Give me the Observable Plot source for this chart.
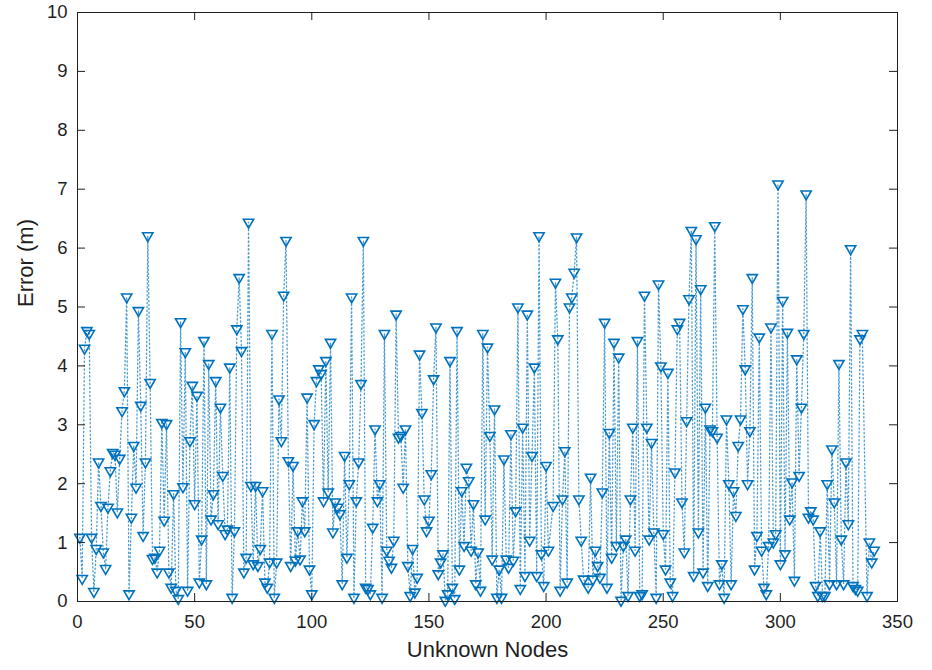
<!DOCTYPE html>
<html><head><meta charset="utf-8">
<script src="https://cdn.jsdelivr.net/npm/d3@7"></script>
<script src="https://cdn.jsdelivr.net/npm/@observablehq/plot@0.6"></script>
<style>body{margin:0;background:#fff}</style>
</head><body><div id="chart"></div>
<script>
const nodes = [
1,2,3,4,5,6,7,8,9,10,11,12,13,14,15,16,17,18,19,20,
21,22,23,24,25,26,27,28,29,30,31,32,33,34,35,36,37,38,39,40,
41,42,43,44,45,46,47,48,49,50,51,52,53,54,55,56,57,58,59,60,
61,62,63,64,65,66,67,68,69,70,71,72,73,74,75,76,77,78,79,80,
81,82,83,84,85,86,87,88,89,90,91,92,93,94,95,96,97,98,99,100,
101,102,103,104,105,106,107,108,109,110,111,112,113,114,115,116,117,118,119,120,
121,122,123,124,125,126,127,128,129,130,131,132,133,134,135,136,137,138,139,140,
141,142,143,144,145,146,147,148,149,150,151,152,153,154,155,156,157,158,159,160,
161,162,163,164,165,166,167,168,169,170,171,172,173,174,175,176,177,178,179,180,
181,182,183,184,185,186,187,188,189,190,191,192,193,194,195,196,197,198,199,200,
201,203,204,205,206,207,208,209,210,211,212,213,214,215,216,218,219,220,221,222,
223,224,225,226,227,228,229,230,231,232,233,234,235,236,237,238,239,240,241,242,
243,244,245,246,247,248,249,250,251,252,253,254,255,256,257,258,259,260,261,262,
263,264,265,266,267,268,269,270,271,272,273,274,275,276,277,278,279,280,281,282,
283,284,285,286,287,288,289,290,291,292,293,294,295,296,297,298,299,300,301,302,
303,304,305,306,307,308,309,310,311,312,313,314,315,316,317,318,319,320,321,322,
323,324,325,326,327,328,329,330,331,332,333,334,335,337,338,339,340
];
const errors = [
1.09,0.39,4.3,4.6,4.55,1.09,0.17,0.9,2.37,1.63,0.84,0.56,1.6,2.22,2.53,2.5,1.52,2.43,3.24,3.58,
5.17,0.13,1.43,2.65,1.94,4.94,3.33,1.12,2.37,6.21,3.72,0.73,0.75,0.5,0.87,3.04,1.38,3.02,0.5,0.24,
1.83,0.19,0.05,4.75,1.95,4.24,0.19,2.73,3.67,1.66,3.5,0.33,1.06,4.43,0.3,4.04,1.4,1.83,3.75,1.32,
3.3,2.14,1.15,1.23,3.98,0.07,1.2,4.63,5.5,4.26,0.5,0.75,6.44,1.97,0.64,1.97,0.61,0.9,1.88,0.33,
0.24,0.67,4.55,0.07,0.67,3.44,2.73,5.2,6.13,2.39,0.61,2.31,0.7,1.2,0.72,1.71,1.2,3.47,0.55,0.13,
3.02,3.75,3.95,3.87,1.71,4.09,1.86,4.4,1.18,1.69,1.6,1.49,0.3,2.48,0.75,2.0,5.17,0.07,1.71,2.37,
3.7,6.13,0.24,0.22,0.13,1.26,2.93,1.71,2.0,0.07,4.55,0.87,0.7,0.58,1.04,4.88,2.79,2.82,1.94,2.93,
0.61,0.1,0.9,0.16,0.41,4.2,3.21,1.74,1.2,1.38,2.17,3.78,4.66,0.47,0.67,0.81,0.02,0.13,4.09,0.24,
0.05,4.6,0.55,1.88,0.95,2.28,2.05,0.87,1.66,0.3,0.84,0.19,4.55,1.4,4.32,2.82,0.72,3.27,0.07,0.55,
0.07,2.42,0.72,0.58,2.85,0.7,1.54,5.0,0.22,2.96,0.44,4.88,1.04,2.48,3.98,0.44,6.21,0.81,0.27,2.31,
0.87,1.63,5.42,4.46,0.19,1.74,2.56,0.33,5.0,5.17,5.59,6.19,1.74,1.04,0.38,0.24,2.11,0.38,0.87,0.61,
0.41,1.86,4.74,0.24,2.87,0.75,4.4,0.95,4.15,0.02,0.95,1.06,0.1,1.74,2.96,0.87,4.43,0.1,0.13,5.2,
2.96,1.06,2.7,1.18,0.07,5.39,4.0,1.15,0.55,3.89,0.33,0.1,2.2,4.63,4.74,1.69,0.84,3.07,5.14,6.3,
0.44,6.16,1.18,5.31,0.5,3.3,0.27,2.93,2.9,6.38,2.79,0.3,0.64,0.07,3.1,2.0,0.3,1.88,1.46,2.65,
3.1,4.97,3.95,2.0,2.9,5.5,0.55,1.12,4.49,0.87,0.24,0.13,0.95,4.66,1.01,1.15,7.09,0.64,5.11,0.81,
4.57,1.4,2.03,0.36,4.12,2.14,3.3,4.55,6.92,1.43,1.54,1.4,0.27,0.1,1.2,0.1,0.1,2.0,0.3,2.59,
1.69,0.3,4.04,1.06,0.3,2.37,1.32,5.99,0.27,0.22,0.19,4.46,4.55,0.1,1.01,0.67,0.87
];
const xTicks = [0, 50, 100, 150, 200, 250, 300, 350];
const yTicks = [0, 1, 2, 3, 4, 5, 6, 7, 8, 9, 10];
const xLabel = "Unknown Nodes";
const yLabel = "Error (m)";

const data = nodes.map((n, i) => ({node: n, error: errors[i]}));
const blue = "#0072BD";
const ink = "#1f1f1f";
const s3 = Math.sqrt(3);
const triangleDown = {
  draw(context, size) {
    const y = Math.sqrt(size / (s3 * 3));
    context.moveTo(0, y * 2);
    context.lineTo(-s3 * y, -y);
    context.lineTo(s3 * y, -y);
    context.closePath();
  }
};

const chart = Plot.plot({
  width: 932, height: 670,
  marginLeft: 77, marginRight: 35, marginTop: 12, marginBottom: 69,
  x: {domain: [0, 350]},
  y: {domain: [0, 10]},
  style: {fontFamily: "'Liberation Sans', Arial, sans-serif", color: ink, background: "white"},
  marks: [
    Plot.line(data, {x: "node", y: "error", stroke: blue, strokeWidth: 1.3, strokeDasharray: "1.3,2.6", strokeOpacity: 0.7}),
    Plot.dot(data, {x: "node", y: "error", symbol: triangleDown, r: 3.8, stroke: blue, strokeWidth: 1.6, fill: "none"}),
    Plot.frame({stroke: ink, strokeWidth: 1}),
    Plot.ruleX(xTicks, {x: d => d, y1: 0, y2: 0, insetBottom: 8, stroke: ink}),
    Plot.ruleX(xTicks, {x: d => d, y1: 10, y2: 10, insetTop: 8, stroke: ink}),
    Plot.ruleY(yTicks, {y: d => d, x1: 0, x2: 0, insetLeft: 8, stroke: ink}),
    Plot.ruleY(yTicks, {y: d => d, x1: 350, x2: 350, insetRight: 8, stroke: ink}),
    Plot.axisX({ticks: xTicks, tickSize: 0, tickPadding: 13, fontSize: 18.5, label: null, tickFormat: d => String(d)}),
    Plot.axisY({ticks: yTicks, tickSize: 0, tickPadding: 10, fontSize: 18.5, label: null, tickFormat: d => String(d)}),
    Plot.text([xLabel], {text: d => d, frameAnchor: "bottom", dy: 55, fontSize: 22, fill: ink}),
    Plot.text([yLabel], {text: d => d, frameAnchor: "left", dx: -52, rotate: -90, fontSize: 22, fill: ink})
  ]
});
document.getElementById("chart").appendChild(chart);
</script>
</body></html>
